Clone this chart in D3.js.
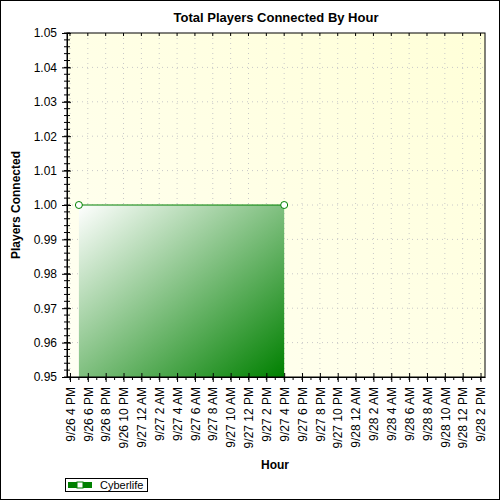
<!DOCTYPE html>
<html><head><meta charset="utf-8">
<script src="https://cdn.jsdelivr.net/npm/d3@7"></script>
<style>body{margin:0;background:#fff}text{font-family:"Liberation Sans",Arial,sans-serif}</style>
</head><body><svg id="chart"></svg>
<script>
var W = 500, H = 500;
margin = {top: 33, right: 15, bottom: 123, left: 67};

// data
var seriesName = "Cyberlife";
var times = [new Date(2000, 8, 26, 17), new Date(2000, 8, 27, 16)];
var values = [1.0, 1.0];
var yTicks = [0.95, 0.96, 0.97, 0.98, 0.99, 1.00, 1.01, 1.02, 1.03, 1.04, 1.05];
var xStart = new Date(2000, 8, 26, 15, 40), xEnd = new Date(2000, 8, 28, 14, 30);

var svg = d3.select("#chart").attr("width", W).attr("height", H);
svg.append("rect").attr("x", 0.5).attr("y", 0.5).attr("width", W - 1).attr("height", H - 1)
  .attr("fill", "white").attr("stroke", "black");

var defs = svg.append("defs");
var bg = defs.append("linearGradient").attr("id", "bg").attr("x1", 0).attr("y1", 1).attr("x2", 1).attr("y2", 0);
bg.append("stop").attr("offset", "0%").attr("stop-color", "#fffff4");
bg.append("stop").attr("offset", "100%").attr("stop-color", "#ffffd8");
var ag = defs.append("linearGradient").attr("id", "ag").attr("x1", 0).attr("y1", 0).attr("x2", 1).attr("y2", 1);
ag.append("stop").attr("offset", "0%").attr("stop-color", "#ffffff");
ag.append("stop").attr("offset", "100%").attr("stop-color", "#008000");

x = d3.scaleTime().domain([xStart, xEnd]).range([margin.left, W - margin.right]);
y = d3.scaleLinear().domain([0.95, 1.05]).range([H - margin.bottom, margin.top]);

svg.append("rect").attr("x", margin.left).attr("y", margin.top)
  .attr("width", W - margin.left - margin.right).attr("height", H - margin.top - margin.bottom)
  .attr("fill", "url(#bg)");

var majorX = d3.timeHour.every(2).range(new Date(2000, 8, 26, 16), xEnd);
var minorX = d3.timeHour.every(1).range(new Date(2000, 8, 26, 16), xEnd);

// grid
svg.append("g").selectAll("line").data(majorX).join("line")
  .attr("x1", d => x(d)).attr("x2", d => x(d)).attr("y1", margin.top).attr("y2", H - margin.bottom)
  .attr("stroke", "#c8c8c8").attr("stroke-dasharray", "1,4");
svg.append("g").selectAll("line").data(yTicks.slice(1, -1)).join("line")
  .attr("x1", margin.left).attr("x2", W - margin.right).attr("y1", d => y(d)).attr("y2", d => y(d))
  .attr("stroke", "#c8c8c8").attr("stroke-dasharray", "1,4");

// area
area = d3.area().x((d, i) => x(times[i])).y0(y(0.95)).y1(d => y(d));
svg.append("path").datum(values).attr("fill", "url(#ag)").attr("d", area);
svg.append("path").datum(values).attr("fill", "none").attr("stroke", "#008000")
  .attr("d", d3.line().x((d, i) => x(times[i])).y(d => y(d)));
svg.append("g").selectAll("circle").data(values).join("circle")
  .attr("cx", (d, i) => x(times[i])).attr("cy", d => y(d)).attr("r", 3.5)
  .attr("fill", "white").attr("stroke", "#008000");

// axes
var fmt = d => (d.getMonth() + 1) + "/" + d.getDate() + " " + ((d.getHours() % 12) || 12) + " " + (d.getHours() < 12 ? "AM" : "PM");
var xa = svg.append("g").attr("transform", `translate(0,${H - margin.bottom})`)
  .call(d3.axisBottom(x).tickValues(majorX).tickFormat(fmt).tickSize(5).tickSizeOuter(0));
xa.selectAll("text").attr("transform", "rotate(-90)").attr("x", -10).attr("y", 0).attr("dy", "0.35em")
  .style("text-anchor", "end").style("font-size", "12px").attr("fill", "black");
xa.selectAll("line").attr("y1", -4).attr("y2", 5);
svg.append("g").selectAll("line").data(minorX).join("line")
  .attr("x1", d => x(d)).attr("x2", d => x(d)).attr("y1", H - margin.bottom).attr("y2", H - margin.bottom + 3).attr("stroke", "black");
svg.append("g").selectAll("line").data(majorX).join("line")
  .attr("x1", d => x(d)).attr("x2", d => x(d)).attr("y1", margin.top).attr("y2", margin.top + 3).attr("stroke", "black");

var ya = svg.append("g").attr("transform", `translate(${margin.left},0)`)
  .call(d3.axisLeft(y).tickValues(yTicks).tickFormat(d3.format(".2f")).tickSize(5).tickSizeOuter(0));
ya.selectAll("text").style("font-size", "12px").attr("fill", "black").attr("x", -10);
ya.selectAll("line").attr("x2", 4).attr("x1", -5);
var minorY = d3.range(0, 51).map(i => 0.95 + i * 0.002);
svg.append("g").selectAll("line").data(minorY).join("line")
  .attr("x1", margin.left - 3).attr("x2", margin.left + 3).attr("y1", d => y(d)).attr("y2", d => y(d)).attr("stroke", "black");

svg.append("rect").attr("x", margin.left).attr("y", margin.top)
  .attr("width", W - margin.left - margin.right).attr("height", H - margin.top - margin.bottom)
  .attr("fill", "none").attr("stroke", "black");

// titles
svg.append("text").attr("x", 276).attr("y", 22).attr("text-anchor", "middle")
  .style("font-size", "13px").style("font-weight", "bold").text("Total Players Connected By Hour");
svg.append("text").attr("x", 275).attr("y", 469).attr("text-anchor", "middle")
  .style("font-size", "12px").style("font-weight", "bold").text("Hour");
svg.append("text").attr("transform", "translate(20,205) rotate(-90)").attr("text-anchor", "middle")
  .style("font-size", "12px").style("font-weight", "bold").text("Players Connected");

// legend
var lg = svg.append("g").attr("transform", "translate(65,478)");
lg.append("rect").attr("x", 0.5).attr("y", 0.5).attr("width", 82).attr("height", 13).attr("fill", "white").attr("stroke", "black");
lg.append("rect").attr("x", 3).attr("y", 4).attr("width", 24).attr("height", 6).attr("fill", "#008000");
lg.append("rect").attr("x", 12).attr("y", 4).attr("width", 6).attr("height", 6).attr("fill", "white").attr("stroke", "#008000");
lg.append("text").attr("x", 35).attr("y", 11).style("font-size", "11px").text(seriesName);
</script></body></html>
